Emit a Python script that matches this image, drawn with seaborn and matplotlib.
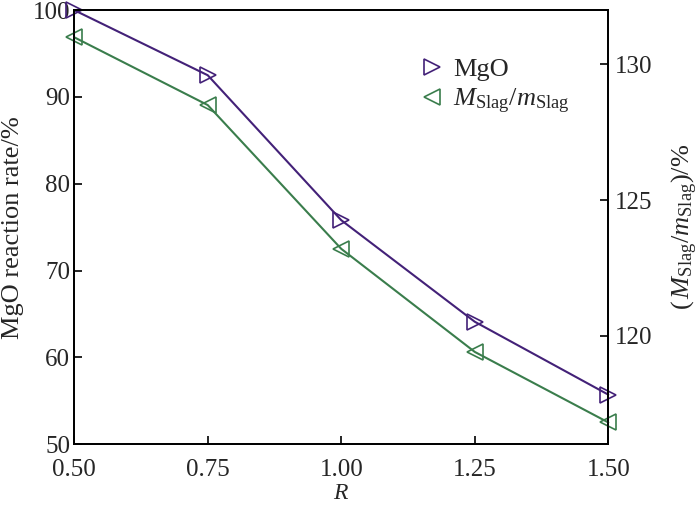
import matplotlib
matplotlib.use('Agg')
import matplotlib.pyplot as plt
import seaborn as sns
import pandas as pd

# values
r_values = [0.50, 0.75, 1.00, 1.25, 1.50]
mgo_rate = [100.0, 92.5, 75.8, 64.1, 55.7]
slag_ratio = [131.0, 128.5, 123.2, 119.4, 116.8]

x_ticks = [0.50, 0.75, 1.00, 1.25, 1.50]
left_ticks = [50, 60, 70, 80, 90, 100]
right_ticks = [120, 125, 130]

df = pd.DataFrame({'R': r_values, 'MgO': mgo_rate, 'Slag': slag_ratio})

sns.set_style('ticks')
plt.rcParams['font.family'] = ['Liberation Serif', 'DejaVu Serif']
plt.rcParams['mathtext.fontset'] = 'custom'
plt.rcParams['mathtext.rm'] = 'Liberation Serif'
plt.rcParams['mathtext.it'] = 'Liberation Serif:italic'
plt.rcParams['font.size'] = 17

purple = '#432178'
green = '#3a7d4c'

fig = plt.figure(figsize=(7, 5.07), dpi=100)
ax = fig.add_axes([0.106, 0.124, 0.763, 0.856])
ax2 = ax.twinx()

sns.lineplot(data=df, x='R', y='MgO', ax=ax, color=purple, marker='>', markersize=11,
             markerfacecolor='none', markeredgecolor=purple, markeredgewidth=1.2,
             linewidth=1.5, label='MgO', legend=False, clip_on=False)
sns.lineplot(data=df, x='R', y='Slag', ax=ax2, color=green, marker='<', markersize=11,
             markerfacecolor='none', markeredgecolor=green, markeredgewidth=1.2,
             linewidth=1.5, label=r'$M_{\rm Slag}/m_{\rm Slag}$', legend=False, clip_on=False)

ax.set_xlim(0.5, 1.5)
ax.set_ylim(50, 100)
ax2.set_ylim(116, 132)
ax.set_xticks(x_ticks)
ax.set_xticklabels([f'{v:.2f}' for v in x_ticks])
ax.set_yticks(left_ticks)
ax2.set_yticks(right_ticks)

ax.set_xlabel('$R$', fontsize=17, labelpad=1)
ax.set_ylabel('MgO reaction rate/%', fontsize=19, labelpad=6)
ax2.set_ylabel(r'$(\,M_{\rm Slag}/m_{\rm Slag})$/%', fontsize=19, labelpad=12)

for a in (ax, ax2):
    a.tick_params(direction='in', length=6, width=1.2, labelsize=18, color='black')
    for s in a.spines.values():
        s.set_linewidth(1.3)
        s.set_color('black')
ax.tick_params(axis='x', pad=11)
ax.tick_params(axis='y', right=False, pad=3)
ax2.tick_params(axis='y', left=False, pad=5)

h1, l1 = ax.get_legend_handles_labels()
h2, l2 = ax2.get_legend_handles_labels()
leg = ax2.legend(h1 + h2, l1 + l2, loc='upper right', bbox_to_anchor=(0.972, 0.945),
                 frameon=False, fontsize=19, handlelength=1.0, handletextpad=0.3,
                 labelspacing=0.2)
for h in leg.legend_handles:
    h.set_linestyle('none')

fig.savefig('out.png', dpi=100)
